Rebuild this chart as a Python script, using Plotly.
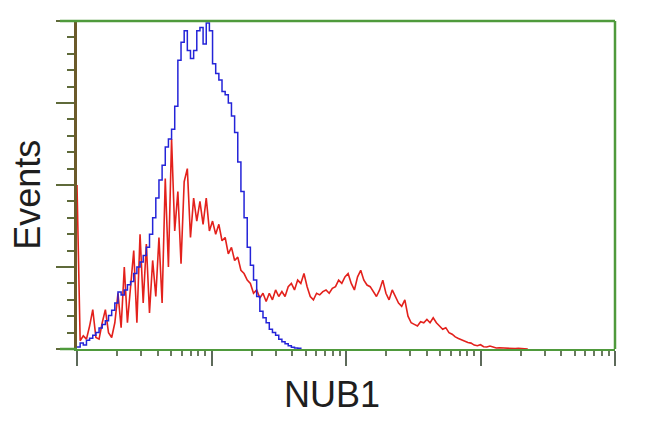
import numpy as np
import plotly.graph_objects as go

# channel bins (log scale, 256 channels per decade, every 6th channel)
STEP = 6
blue_events = [0.6, 1.8, 1.2, 2.7, 3.3, 4.2, 5.0, 6.4, 7.5, 8.6,
               10.2, 11.8, 14, 17.4, 16.5, 18, 19.6, 20.6, 23, 25,
               26.5, 28.5, 31, 35, 40, 46, 51.5, 56, 61.6, 64,
               67, 74, 88, 93.5, 97, 91, 88.6, 91, 97, 98,
               93, 99.4, 97, 87, 84, 82, 78.5, 77.5, 75, 71,
               66, 57, 48, 40, 31, 25.5, 21, 16, 11.5, 9.5,
               8, 6, 5, 4.2, 3, 2.2, 1.6, 1, 0.5, 0.3,
               0.2, 0]

red_events = [50, 2.5, 4, 3, 7, 12, 3.5, 3, 8, 12,
              5, 3.5, 8, 17, 6.5, 25, 8, 20, 30, 8,
              35, 14, 32, 11, 27, 16, 34, 14, 52, 25,
              64, 36, 48, 26, 51, 55, 34, 46, 39, 45,
              38, 46, 36, 39, 35, 38, 33, 34, 29, 31,
              27, 28, 24, 23, 21, 20, 17, 18, 15.5, 17,
              14.5, 17, 15, 18, 16, 17.5, 16, 19, 20, 18,
              21, 20, 23, 19, 16, 15, 17, 16.5, 17.5, 18,
              17, 18.5, 19, 21, 20, 22, 23, 20, 18, 22,
              24, 21, 19.5, 19, 17.5, 16, 18, 21, 17, 15,
              18, 16, 14, 13, 15, 10, 8, 7.5, 7, 8.3,
              8, 9, 8, 9.5, 8, 7, 6, 6.5, 5, 4.5,
              3.7, 3.2, 2.8, 2.2, 2, 1.8, 1.2, 1, 1.3, 0.7,
              0.6, 0.9, 0.5, 0.3, 0.4, 0.3, 0.2, 0.3, 0.2, 0.1,
              0.2, 0.1, 0, 0]

x_title = "NUB1"
y_title = "Events"
decades = [0, 1, 2, 3, 4]

blue_x = 10 ** (np.arange(len(blue_events)) * STEP / 256)
red_x = 10 ** (np.arange(len(red_events)) * STEP / 256)

GREEN = "#4f9a3c"
fig = go.Figure()
fig.add_trace(go.Scatter(x=red_x, y=red_events, mode="lines",
                         line=dict(color="#e3211c", width=1.6)))
fig.add_trace(go.Scatter(x=blue_x, y=blue_events, mode="lines",
                         line=dict(color="#2424d8", width=1.5, shape="hv")))

major_x = [10 ** d for d in decades]
minor_x = [k * 10 ** d for d in decades[:-1] for k in range(2, 10)]

fig.update_layout(
    width=642, height=424,
    margin=dict(l=69, r=35, t=13, b=83),
    paper_bgcolor="white", plot_bgcolor="white",
    showlegend=False,
    xaxis=dict(type="log", range=[0, 4], showgrid=False, zeroline=False,
               showline=True, linecolor=GREEN, linewidth=2,
               tickmode="array", tickvals=major_x, showticklabels=False,
               ticks="outside", ticklen=15, tickwidth=2, tickcolor="#5d6a5a",
               minor=dict(tickmode="array", tickvals=minor_x, ticks="outside",
                          ticklen=5, tickwidth=2, tickcolor="#6a7a60",
                          showgrid=False)),
    yaxis=dict(range=[0, 100], showgrid=False, zeroline=False,
               showline=True, linecolor="#6b5a2a", linewidth=2.5,
               tick0=0, dtick=25, showticklabels=False,
               ticks="outside", ticklen=18, tickwidth=2, tickcolor="#5f6a3a",
               minor=dict(dtick=5, ticks="outside", ticklen=7, tickwidth=2,
                          tickcolor="#5f6a3a", showgrid=False)),
    shapes=[
        dict(type="line", xref="paper", yref="paper", x0=-17 / 538, x1=1,
             y0=1, y1=1, line=dict(color=GREEN, width=2.5)),
        dict(type="line", xref="paper", yref="paper", x0=1, x1=1,
             y0=0, y1=1, line=dict(color=GREEN, width=2.5)),
        dict(type="line", xref="paper", yref="paper", x0=-17 / 538, x1=0,
             y0=0, y1=0, line=dict(color=GREEN, width=2.5)),
    ],
    annotations=[
        dict(text=y_title, xref="paper", yref="paper", x=-49 / 538, y=0.47,
             showarrow=False, textangle=-90, xanchor="center", yanchor="middle",
             font=dict(family="Liberation Sans, Arial", size=36, color="#1e1e1e")),
        dict(text=x_title, xref="paper", yref="paper", x=255 / 538, y=-45 / 328,
             showarrow=False, xanchor="center", yanchor="middle",
             font=dict(family="Liberation Sans, Arial", size=36, color="#1e1e1e")),
    ],
)

fig.write_html("out.html")
